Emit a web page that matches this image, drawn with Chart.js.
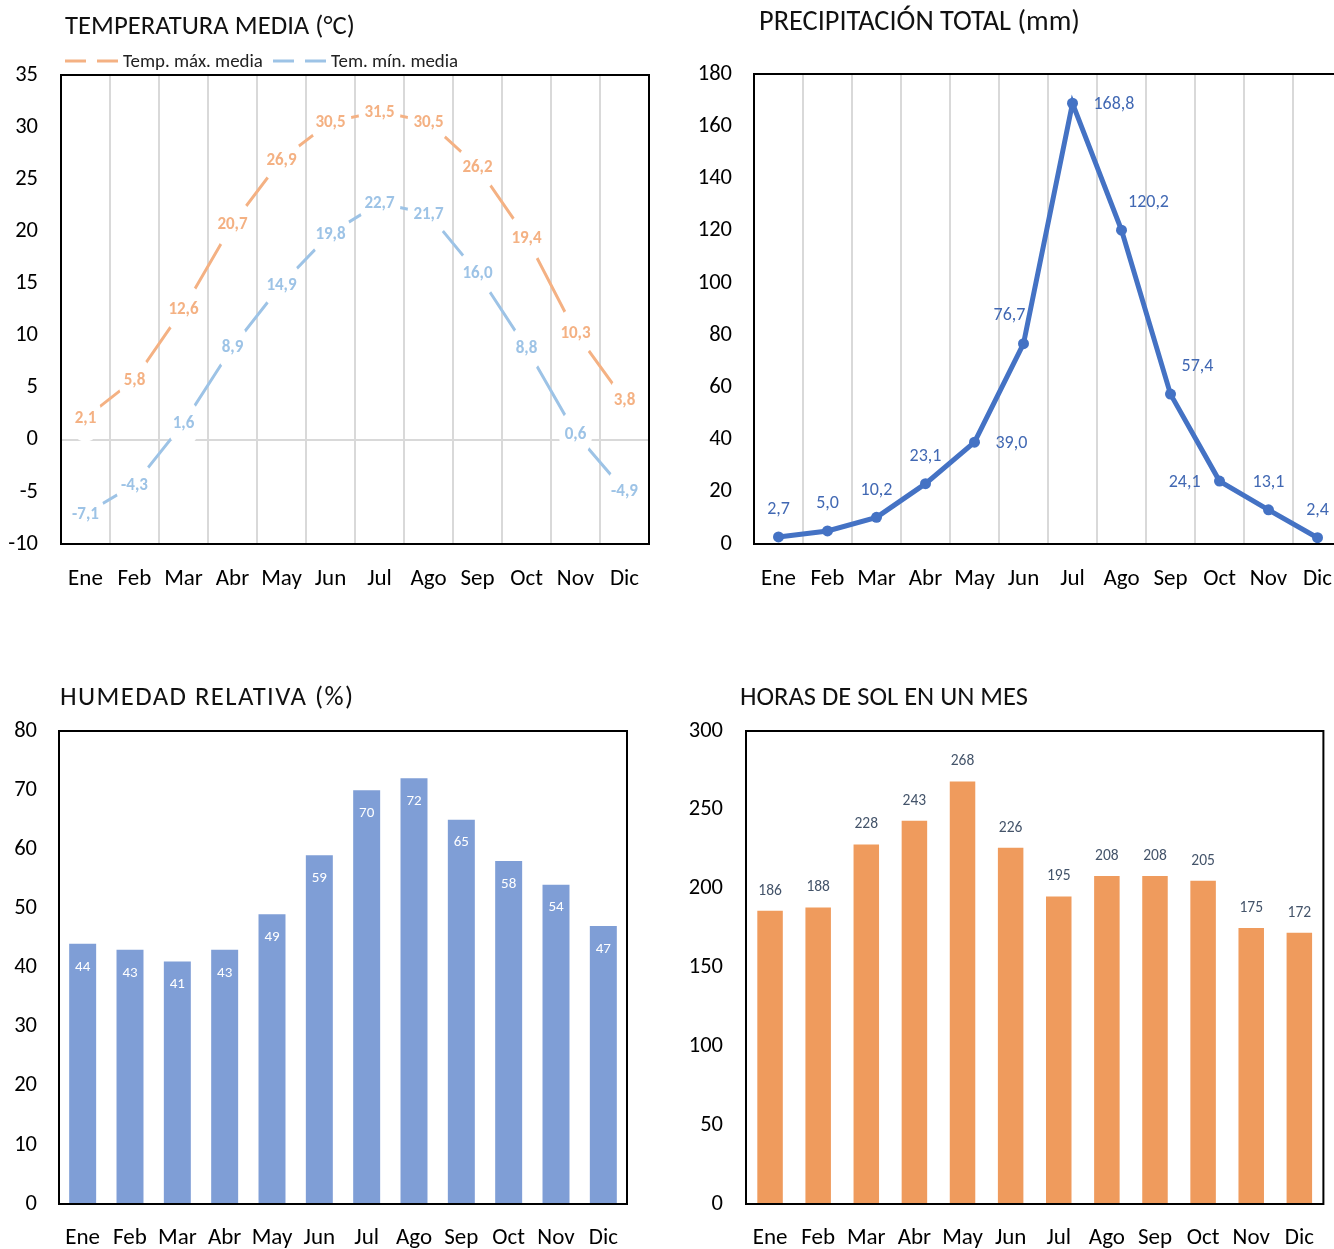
<!DOCTYPE html>
<html><head><meta charset="utf-8">
<script src="https://cdn.jsdelivr.net/npm/chart.js@4.4.1/dist/chart.umd.min.js"></script>
<style>
html,body{margin:0;padding:0;background:#fff;overflow:hidden;width:1334px;height:1249px;position:relative;}
canvas{position:absolute;}
</style></head><body>
<canvas id="cTemp"></canvas>
<canvas id="cPrec"></canvas>
<canvas id="cHum"></canvas>
<canvas id="cSun"></canvas>
<script>
// ---------- DATA ----------
const months = ['Ene','Feb','Mar','Abr','May','Jun','Jul','Ago','Sep','Oct','Nov','Dic'];
const tempMax = [2.1, 5.8, 12.6, 20.7, 26.9, 30.5, 31.5, 30.5, 26.2, 19.4, 10.3, 3.8];
const tempMin = [-7.1, -4.3, 1.6, 8.9, 14.9, 19.8, 22.7, 21.7, 16.0, 8.8, 0.6, -4.9];
const precip = [2.7, 5.0, 10.2, 23.1, 39.0, 76.7, 168.8, 120.2, 57.4, 24.1, 13.1, 2.4];
const humidity = [44, 43, 41, 43, 49, 59, 70, 72, 65, 58, 54, 47];
const sunHours = [186, 188, 228, 243, 268, 226, 195, 208, 208, 205, 175, 172];
const seriesNames = ['Temp. máx. media', 'Tem. mín. media'];
const titles = ['TEMPERATURA MEDIA (°C)', 'PRECIPITACIÓN TOTAL (mm)', 'HUMEDAD RELATIVA (%)', 'HORAS DE SOL EN UN MES'];
// label placement for precipitation (style)
const precipLabelPos = ['top','top','top','top','right','topleft','right','topright','topright','left','top','top'];

// ---------- STYLE ----------
const FONT = 'Carlito, Lato, sans-serif';
const ORANGE_L = '#F4B183', BLUE_L = '#9DC3E6';
const BLUE = '#4472C4', BLUE_LBL = '#4168B3';
const BAR_BLUE = '#7F9ED6', BAR_ORANGE = '#EF9B5D';
const GRID = '#D9D9D9';
const TICK_Y = 22.5, TICK_X = 23;

const fmt1 = v => v.toFixed(1).replace('.', ',');

function setupCanvas(id, c){
  const el = document.getElementById(id);
  el.width = c.w; el.height = c.h;
  el.style.left = c.x + 'px'; el.style.top = c.y + 'px';
  el.style.width = c.w + 'px'; el.style.height = c.h + 'px';
  return el;
}

function fitSize(ctx, text, weight, target){
  ctx.font = `${weight} 20px ${FONT}`;
  const w = ctx.measureText(text).width;
  return 20 * target / w;
}

const borderPlugin = {
  id: 'plotBorder',
  afterDraw(chart){
    const {ctx, chartArea: a} = chart;
    ctx.save();
    ctx.strokeStyle = '#000'; ctx.lineWidth = 2;
    ctx.strokeRect(a.left, a.top, a.right - a.left, a.bottom - a.top);
    ctx.restore();
  }
};

function titlePlugin(text, absX, absY, targetW, canvasRect, spaced){
  return {
    id: 'titleText',
    afterDraw(chart){
      const ctx = chart.ctx;
      ctx.save();
      let size;
      if (spaced) {
        size = fitSize(ctx, titles[0], 'normal', 290);
      } else {
        size = fitSize(ctx, text, 'normal', targetW);
      }
      ctx.font = `normal ${size}px ${FONT}`;
      if (spaced) {
        const w = ctx.measureText(text).width;
        ctx.letterSpacing = ((targetW - w) / (text.length - 1)) + 'px';
      }
      ctx.fillStyle = '#111';
      ctx.textAlign = 'left'; ctx.textBaseline = 'middle';
      ctx.fillText(text, absX - canvasRect.x, absY - canvasRect.y + 2);
      ctx.restore();
    }
  };
}

function baseScales(canvasRect, plot, ymin, ymax, step, yGap, xPad){
  return {
    x: {
      type: 'category', offset: true,
      grid: { display: false, drawTicks: false },
      border: { display: false },
      ticks: { color: '#000', font: { family: FONT, size: TICK_X }, padding: xPad, maxRotation: 0, autoSkip: false },
      afterFit(s){ s.height = canvasRect.h - (plot.b - canvasRect.y); }
    },
    y: {
      min: ymin, max: ymax,
      grid: { display: false, drawTicks: false },
      border: { display: false },
      ticks: { stepSize: step, color: '#000', font: { family: FONT, size: TICK_Y }, padding: yGap },
      afterFit(s){ s.width = plot.l - canvasRect.x; }
    }
  };
}

function layoutPad(canvasRect, plot){
  return { left: 0, top: plot.t - canvasRect.y, right: canvasRect.x + canvasRect.w - plot.r, bottom: 0 };
}

// ---------- CHART A: TEMPERATURE ----------
(function(){
  const C = {x:0, y:0, w:667, h:610};
  const P = {l:61, t:75, r:649, b:544};
  const el = setupCanvas('cTemp', C);
  const scales = baseScales(C, P, -10, 35, 5, 23, 21);
  scales.x.grid = { display: true, offset: true, drawTicks: false, color: GRID, lineWidth: 2 };
  scales.y.grid = { display: true, drawTicks: false, lineWidth: 2,
    color: c => (c.tick && c.tick.value === 0) ? GRID : 'rgba(0,0,0,0)' };

  const labelPlugin = {
    id: 'tempLabels',
    afterDatasetsDraw(chart){
      const ctx = chart.ctx;
      ctx.save();
      ctx.font = `bold 17px ${FONT}`;
      ctx.textAlign = 'center'; ctx.textBaseline = 'middle';
      const items = [];
      chart.data.datasets.forEach((ds, di) => {
        chart.getDatasetMeta(di).data.forEach((pt, i) => {
          items.push({x: pt.x, y: pt.y, t: fmt1(ds.data[i]), c: ds.borderColor});
        });
      });
      ctx.fillStyle = '#fff';
      items.forEach(it => {
        const w = ctx.measureText(it.t).width;
        ctx.beginPath();
        ctx.ellipse(it.x, it.y, w/2 + 6, 24, 0, 0, Math.PI*2);
        ctx.fill();
      });
      items.forEach(it => { ctx.fillStyle = it.c; ctx.fillText(it.t, it.x, it.y + 1); });
      ctx.restore();
    }
  };

  const legendPlugin = {
    id: 'tempLegend',
    afterDraw(chart){
      const ctx = chart.ctx;
      ctx.save();
      const y = 61;
      const items = [
        {x0: 65, x1: 118, tx: 123, c: ORANGE_L, t: seriesNames[0]},
        {x0: 273, x1: 327, tx: 331, c: BLUE_L, t: seriesNames[1]}
      ];
      const size = fitSize(ctx, seriesNames[0], 'normal', 140);
      items.forEach(it => {
        ctx.strokeStyle = it.c; ctx.lineWidth = 3; ctx.setLineDash([21, 11]);
        ctx.beginPath(); ctx.moveTo(it.x0, y); ctx.lineTo(it.x1, y); ctx.stroke();
        ctx.setLineDash([]);
        ctx.font = `normal ${size}px ${FONT}`;
        ctx.fillStyle = '#222'; ctx.textAlign = 'left'; ctx.textBaseline = 'middle';
        ctx.fillText(it.t, it.tx, y + 1);
      });
      ctx.restore();
    }
  };

  new Chart(el, {
    type: 'line',
    data: { labels: months, datasets: [
      { label: seriesNames[0], data: tempMax, borderColor: ORANGE_L, borderWidth: 3, pointRadius: 0, fill: false, tension: 0, clip: false },
      { label: seriesNames[1], data: tempMin, borderColor: BLUE_L, borderWidth: 3, pointRadius: 0, fill: false, tension: 0, clip: false }
    ]},
    options: {
      responsive: false, animation: false, devicePixelRatio: 1, events: [],
      layout: { padding: layoutPad(C, P) },
      plugins: { legend: { display: false }, tooltip: { enabled: false } },
      scales
    },
    plugins: [labelPlugin, borderPlugin, legendPlugin, titlePlugin(titles[0], 65, 25, 290, C, false)]
  });
})();

// ---------- CHART B: PRECIPITATION ----------
(function(){
  const C = {x:667, y:0, w:700, h:610};
  const P = {l:754, t:74, r:1342, b:544};
  const el = setupCanvas('cPrec', C);
  const scales = baseScales(C, P, 0, 180, 20, 22, 21);
  scales.x.grid = { display: true, offset: true, drawTicks: false, color: GRID, lineWidth: 2 };

  const offsets = {
    top: (w) => [0, -28],
    right: (w) => [21 + w/2, 0],
    left: (w) => [-(19 + w/2), 0],
    topleft: (w) => [-14, -29],
    topright: (w) => [27, -29]
  };
  const labelPlugin = {
    id: 'precLabels',
    afterDatasetsDraw(chart){
      const ctx = chart.ctx;
      ctx.save();
      ctx.font = `normal 18px ${FONT}`;
      ctx.textAlign = 'center'; ctx.textBaseline = 'middle';
      ctx.fillStyle = BLUE_LBL;
      chart.getDatasetMeta(0).data.forEach((pt, i) => {
        const t = fmt1(precip[i]);
        const w = ctx.measureText(t).width;
        const [dx, dy] = offsets[precipLabelPos[i]](w);
        ctx.fillText(t, pt.x + dx, pt.y + dy + 1);
      });
      ctx.restore();
    }
  };

  new Chart(el, {
    type: 'line',
    data: { labels: months, datasets: [
      { data: precip, borderColor: BLUE, backgroundColor: BLUE, borderWidth: 5, pointRadius: 5.5, pointBorderWidth: 0, pointBackgroundColor: BLUE, fill: false, tension: 0, clip: false }
    ]},
    options: {
      responsive: false, animation: false, devicePixelRatio: 1, events: [],
      layout: { padding: layoutPad(C, P) },
      plugins: { legend: { display: false }, tooltip: { enabled: false } },
      scales
    },
    plugins: [labelPlugin, borderPlugin, titlePlugin(titles[1], 759, 21, 321, C, false)]
  });
})();

// ---------- CHART C: HUMIDITY ----------
(function(){
  const C = {x:0, y:620, w:667, h:629};
  const P = {l:59, t:731, r:627, b:1204};
  const el = setupCanvas('cHum', C);
  const scales = baseScales(C, P, 0, 80, 10, 22, 20);

  const labelPlugin = {
    id: 'humLabels',
    afterDatasetsDraw(chart){
      const ctx = chart.ctx;
      ctx.save();
      ctx.font = `normal 15px ${FONT}`;
      ctx.textAlign = 'center'; ctx.textBaseline = 'middle';
      ctx.fillStyle = '#fff';
      chart.getDatasetMeta(0).data.forEach((bar, i) => {
        ctx.fillText(String(humidity[i]), bar.x, bar.y + 23);
      });
      ctx.restore();
    }
  };

  new Chart(el, {
    type: 'bar',
    data: { labels: months, datasets: [
      { data: humidity, backgroundColor: BAR_BLUE, borderWidth: 0, categoryPercentage: 1, barPercentage: 0.57 }
    ]},
    options: {
      responsive: false, animation: false, devicePixelRatio: 1, events: [],
      layout: { padding: layoutPad(C, P) },
      plugins: { legend: { display: false }, tooltip: { enabled: false } },
      scales
    },
    plugins: [labelPlugin, borderPlugin, titlePlugin(titles[2], 60, 696, 293, C, true)]
  });
})();

// ---------- CHART D: SUN HOURS ----------
(function(){
  const C = {x:667, y:620, w:667, h:629};
  const P = {l:746, t:731, r:1332, b:1204};
  const el = setupCanvas('cSun', C);
  const scales = baseScales(C, P, 0, 300, 50, 23, 20);

  const labelPlugin = {
    id: 'sunLabels',
    afterDatasetsDraw(chart){
      const ctx = chart.ctx;
      ctx.save();
      ctx.font = `normal 15.5px ${FONT}`;
      ctx.textAlign = 'center'; ctx.textBaseline = 'middle';
      ctx.fillStyle = '#44546A';
      chart.getDatasetMeta(0).data.forEach((bar, i) => {
        ctx.fillText(String(sunHours[i]), bar.x, bar.y - 20);
      });
      ctx.restore();
    }
  };

  new Chart(el, {
    type: 'bar',
    data: { labels: months, datasets: [
      { data: sunHours, backgroundColor: BAR_ORANGE, borderWidth: 0, categoryPercentage: 1, barPercentage: 0.53 }
    ]},
    options: {
      responsive: false, animation: false, devicePixelRatio: 1, events: [],
      layout: { padding: layoutPad(C, P) },
      plugins: { legend: { display: false }, tooltip: { enabled: false } },
      scales
    },
    plugins: [labelPlugin, borderPlugin, titlePlugin(titles[3], 740, 696, 288, C, false)]
  });
})();
</script>
</body></html>
